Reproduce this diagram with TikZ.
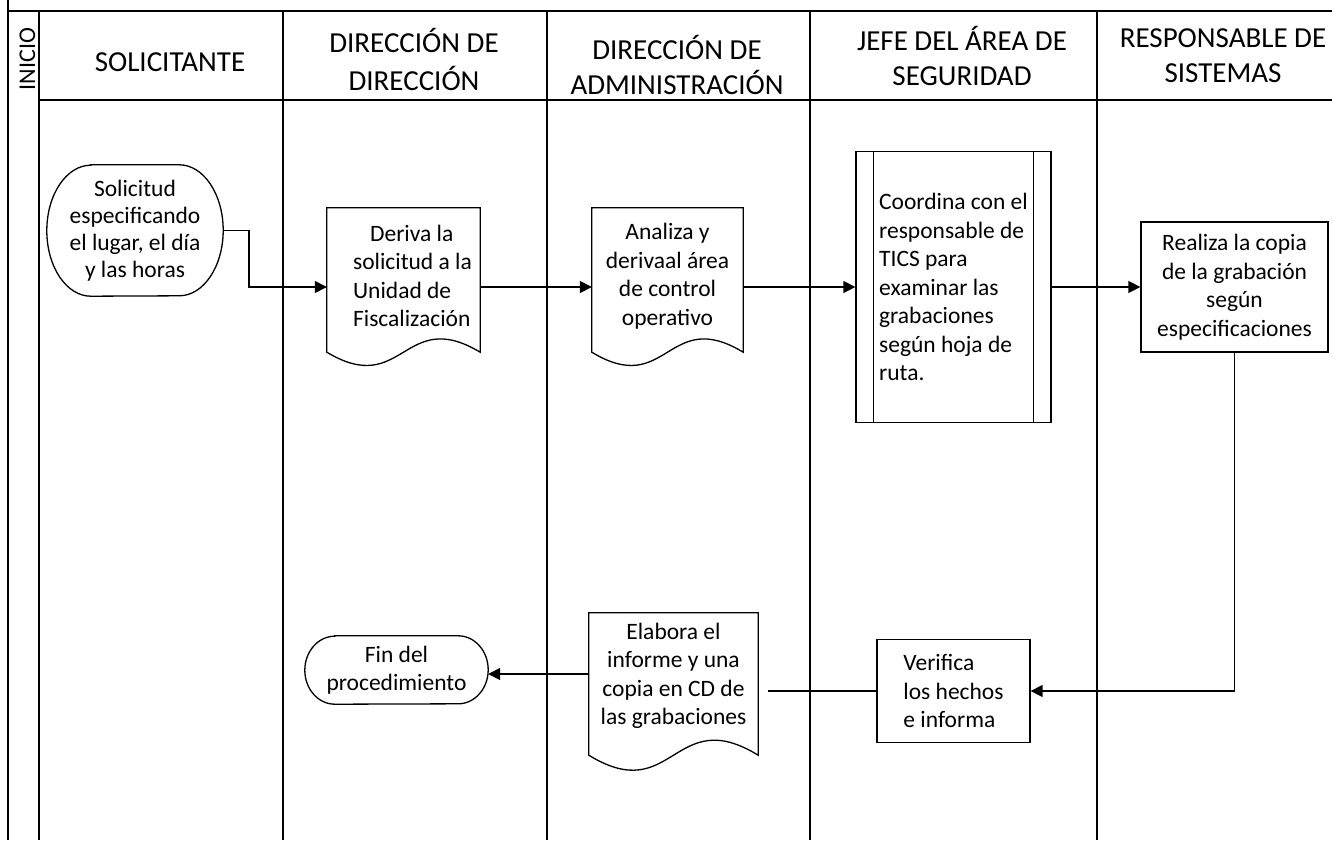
\documentclass[tikz,border=0pt]{standalone}
\usepackage{fontspec}
\setmainfont{Carlito}
\usetikzlibrary{calc,arrows.meta}
\newcommand\myBody{\fontsize{23.5}{28.5}\selectfont}
\newcommand\myHdr{\fontsize{29}{35}\selectfont}
\tikzset{
  lane/.style={line width=2pt},
  boxline/.style={line width=1.3pt},
  conn/.style={line width=1.5pt},
  arr/.style={conn,-{Triangle[length=12pt,width=12pt]}},
  txt/.style={font=\myBody,align=center,inner sep=0pt},
  hdr/.style={font=\myHdr,align=center,inner sep=0pt},
  docbox/.style={txt,rectangle,draw=none,minimum width=#1},
  procbox/.style={txt,rectangle,draw,boxline},
}
\newcommand\docwave[3]{%
  \draw[boxline] (#1.north west) -- (#1.north east) -- ($(#1.south east)+(0,#2)$)
    .. controls ($(#1.south)+(0,#2-#3)$) and ($(#1.south)+(0,#2+#3)$) .. ($(#1.south west)+(0,#2)$) -- cycle;}
\newcommand\termshape[3]{%
  \draw[boxline] ($(#1.north west)+(#2pt,0)$) -- ($(#1.north east)+(-#2pt,0)$)
    arc[start angle=90,end angle=-90,x radius=#2pt,y radius=#3pt]
    -- ($(#1.south west)+(#2pt,0)$)
    arc[start angle=270,end angle=90,x radius=#2pt,y radius=#3pt] -- cycle;}
\begin{document}
\begin{tikzpicture}[x=1pt,y=-1pt]
\useasboundingbox (0,0) rectangle (1332,840);
% grid
\draw[lane] (8,0) -- (8,840);
\draw[lane] (8,11) -- (1332,11);
\draw[lane] (39,11) -- (39,840);
\draw[lane] (39,100) -- (1332,100);
\foreach \xx in {283,547,810,1097} \draw[lane] (\xx,11) -- (\xx,840);
% headers
\node[rotate=90,font=\fontsize{24}{28}\selectfont,inner sep=0pt] (ini) at (27.5,59) {INICIO};
\node[hdr] (h1) at (170,62.5) {SOLICITANTE};
\node[hdr,font=\fontsize{29}{38}\selectfont] (h2) at (414,59) {DIRECCIÓN DE\\DIRECCIÓN};
\node[hdr] (h3) at (677,65) {DIRECCIÓN DE\\ADMINISTRACIÓN};
\node[hdr] (h4) at (962,56) {JEFE DEL ÁREA DE\\SEGURIDAD};
\node[hdr] (h5) at (1223,56) {RESPONSABLE DE\\SISTEMAS};
% nodes
\node[txt,font=\fontsize{23.5}{27}\selectfont,minimum width=176pt,minimum height=131pt] (n1) at (135,230.5)
  {Solicitud\\especificando\\el lugar, el día\\y las horas};
\termshape{n1}{44}{65.5}
\node[docbox=153pt,minimum height=136pt,align=left] (d2) at (403.5,276)
  {\hspace*{35pt}Deriva la\\\hspace*{18pt}solicitud a la\\\hspace*{18pt}Unidad de\\\hspace*{18pt}Fiscalización};
\docwave{d2}{8}{46}
\node[docbox=151pt,minimum height=136pt] (d3) at (667.5,276)
  {Analiza y\\derivaal área\\de control\\operativo};
\docwave{d3}{8}{46}
\node[procbox,minimum width=195pt,minimum height=271pt,align=left] (b4) at (953.5,287)
  {Coordina con el\\responsable de\\TICS para\\examinar las\\grabaciones\\según hoja de\\ruta.};
\draw[boxline] ($(b4.north west)+(18,0)$) -- ($(b4.south west)+(18,0)$);
\draw[boxline] ($(b4.north east)+(-18,0)$) -- ($(b4.south east)+(-18,0)$);
\node[procbox,minimum width=187pt,minimum height=130pt] (b5) at (1234.5,287)
  {Realiza la copia\\de la grabación\\según\\especificaciones};
\node[procbox,minimum width=153pt,minimum height=103pt,align=left] (b6) at (953.5,691)
  {Verifica\\los hechos\\e informa};
\node[docbox=169pt,minimum height=126pt] (d7) at (673.5,676)
  {Elabora el\\informe y una\\copia en CD de\\las grabaciones};
\docwave{d7}{16}{52}
\node[txt,minimum width=183pt,minimum height=68pt] (fin) at (396.5,670)
  {Fin del\\procedimiento};
\termshape{fin}{30}{34}
\coordinate (gapend) at (768,691);
% connectors
\draw[arr] (n1.east) -- ++(26,0) |- ($(d2.west)+(0,11)$);
\draw[arr] ($(d2.east)+(0,11)$) -- ($(d3.west)+(0,11)$);
\draw[arr] ($(d3.east)+(0,11)$) -- (b4.west);
\draw[arr] (b4.east) -- (b5.west);
\draw[arr] (b5.south) |- (b6.east);
\draw[conn] (b6.west) -- (gapend);
\draw[arr] ($(d7.west)+(0,-2)$) -- ($(fin.east)+(0,4)$);
\end{tikzpicture}
\end{document}
